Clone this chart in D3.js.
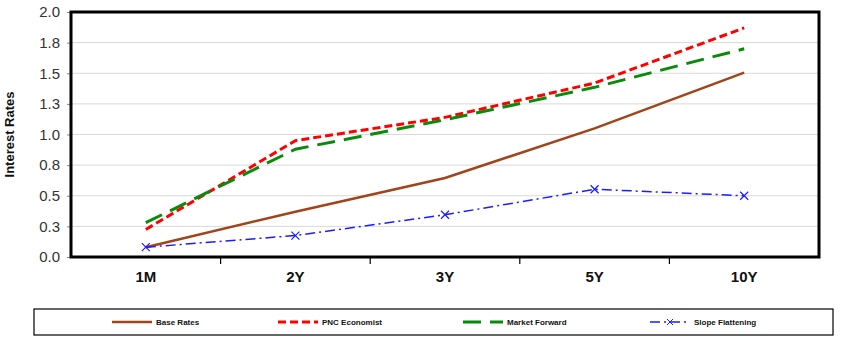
<!DOCTYPE html>
<html><head><meta charset="utf-8">
<script src="https://cdn.jsdelivr.net/npm/d3@7"></script>
<style>body{margin:0;background:#fff}svg{display:block}</style>
</head><body>
<script>
const categories = ["1M","2Y","3Y","5Y","10Y"];
const baseRates = [0.08,0.37,0.645,1.05,1.505];
const pncEconomist = [0.225,0.95,1.14,1.42,1.87];
const marketForward = [0.28,0.88,1.12,1.385,1.70];
const slopeFlattening = [0.08,0.175,0.345,0.553,0.50];
const yTicks = [0,0.25,0.5,0.75,1,1.25,1.5,1.75,2];
const seriesNames = ["Base Rates","PNC Economist","Market Forward","Slope Flattening"];

const W=841,H=344;
const svg=d3.select("body").append("svg").attr("width",W).attr("height",H);
const m={l:71,t:12,r:819,b:257};
const x=d3.scaleBand().domain(categories).range([m.l,m.r]);
const y=d3.scaleLinear().domain([0,2]).range([m.b,m.t]);
const cx=d=>x(d)+x.bandwidth()/2;

// gridlines
svg.append("g").selectAll("line").data(yTicks.slice(1,-1)).join("line")
 .attr("x1",m.l).attr("x2",m.r).attr("y1",d=>y(d)).attr("y2",d=>y(d))
 .attr("stroke","#d9d9d9").attr("stroke-width",1);

// y axis
const ya=svg.append("g").attr("transform",`translate(${m.l},0)`)
 .call(d3.axisLeft(y).tickValues(yTicks).tickFormat(d3.format(".1f")).tickSize(4));
ya.select(".domain").remove();
ya.selectAll("line").attr("stroke","#888");
ya.selectAll("text").attr("font-family","Arial, Liberation Sans, sans-serif").attr("font-size",15).attr("fill","#333").attr("dx",-4);

// x axis
const xa=svg.append("g").attr("transform",`translate(0,${m.b})`)
 .call(d3.axisBottom(x).tickSize(0).tickPadding(14));
xa.select(".domain").remove();
xa.selectAll("text").attr("font-family","Arial, Liberation Sans, sans-serif").attr("font-size",15).attr("font-weight","bold").attr("fill","#111");
// tick marks between categories
svg.append("g").selectAll("line").data(categories.slice(1)).join("line")
 .attr("x1",d=>x(d)).attr("x2",d=>x(d)).attr("y1",m.b).attr("y2",m.b+7)
 .attr("stroke","#000").attr("stroke-width",1.2);

// frame
svg.append("rect").attr("x",m.l).attr("y",m.t).attr("width",m.r-m.l).attr("height",m.b-m.t)
 .attr("fill","none").attr("stroke","#000").attr("stroke-width",3);

// y label
svg.append("text").attr("transform",`translate(14,${(m.t+m.b)/2}) rotate(-90)`)
 .attr("text-anchor","middle").attr("font-family","Arial, Liberation Sans, sans-serif")
 .attr("font-size",13).attr("font-weight","bold").attr("fill","#111").text("Interest Rates");

const line=d3.line().x((d,i)=>cx(categories[i])).y(d=>y(d));
const styles=[
 {data:baseRates,color:"#a0441a",w:2.5,dash:null},
 {data:pncEconomist,color:"#ff0000",w:3,dash:"8,4"},
 {data:marketForward,color:"#0a8a0a",w:3,dash:"18,9"},
 {data:slopeFlattening,color:"#1c1cff",w:1.5,dash:"10,4,2,4"}
];
styles.forEach(s=>{
 svg.append("path").attr("d",line(s.data)).attr("fill","none")
  .attr("stroke",s.color).attr("stroke-width",s.w).attr("stroke-dasharray",s.dash);
});
// x markers
const mk=svg.append("g");
slopeFlattening.forEach((v,i)=>{
 const px=cx(categories[i]),py=y(v),r=4;
 mk.append("path").attr("d",`M${px-r},${py-r}L${px+r},${py+r}M${px-r},${py+r}L${px+r},${py-r}`)
  .attr("stroke","#1c1cff").attr("stroke-width",1.2);
});

// legend
const lg=svg.append("g");
lg.append("rect").attr("x",34).attr("y",309).attr("width",799).attr("height",26)
 .attr("fill","#fff").attr("stroke","#000").attr("stroke-width",1.2);
const lx=[112,278,463,650];
styles.forEach((s,i)=>{
 const g=lg.append("g");
 g.append("line").attr("x1",lx[i]).attr("x2",lx[i]+40).attr("y1",322).attr("y2",322)
  .attr("stroke",s.color).attr("stroke-width",s.w).attr("stroke-dasharray",s.dash);
 if(i===3){
  const px=lx[i]+20,py=322,r=3;
  g.append("path").attr("d",`M${px-r},${py-r}L${px+r},${py+r}M${px-r},${py+r}L${px+r},${py-r}`)
   .attr("stroke",s.color).attr("stroke-width",1);
 }
 g.append("text").attr("x",lx[i]+44).attr("y",325).attr("font-family","Arial, Liberation Sans, sans-serif")
  .attr("font-size",8).attr("font-weight","bold").attr("fill","#111").text(seriesNames[i]);
});
</script>
</body></html>
